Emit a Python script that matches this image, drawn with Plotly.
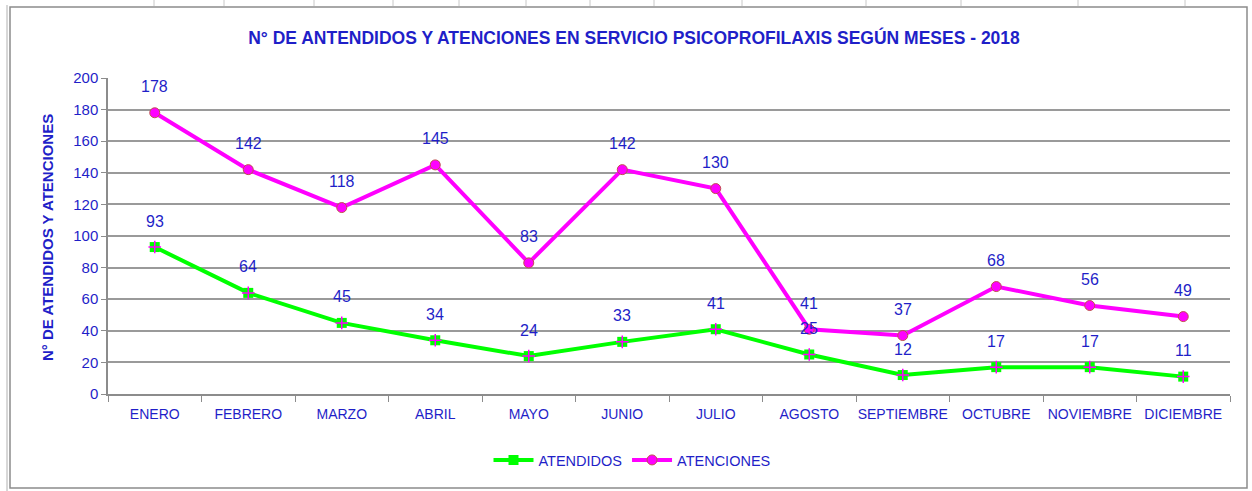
import plotly.graph_objects as go

months = ["ENERO", "FEBRERO", "MARZO", "ABRIL", "MAYO", "JUNIO", "JULIO",
          "AGOSTO", "SEPTIEMBRE", "OCTUBRE", "NOVIEMBRE", "DICIEMBRE"]
atendidos = [93, 64, 45, 34, 24, 33, 41, 25, 12, 17, 17, 11]
atenciones = [178, 142, 118, 145, 83, 142, 130, 41, 37, 68, 56, 49]
y_ticks = [0, 20, 40, 60, 80, 100, 120, 140, 160, 180, 200]

BLUE = "#1F1FC8"
FONT = "Liberation Sans"

fig = go.Figure()

fig.add_trace(go.Scatter(
    x=months, y=atendidos, name="ATENDIDOS", mode="lines+markers",
    line=dict(color="#00FF00", width=4),
    marker=dict(symbol="square", size=10, color="#00FF00", line=dict(width=0)),
))
fig.add_trace(go.Scatter(
    x=months, y=atendidos, mode="markers", showlegend=False, hoverinfo="skip",
    marker=dict(symbol="cross-thin", size=9, color="#FF00FF",
                line=dict(color="#FF00FF", width=1.5)),
))
fig.add_trace(go.Scatter(
    x=months, y=atenciones, name="ATENCIONES", mode="lines+markers",
    line=dict(color="#FF00FF", width=4),
    marker=dict(symbol="circle", size=10, color="#FF00FF",
                line=dict(color="#C0504D", width=1)),
))

annotations = []
for m, v in zip(months, atendidos):
    annotations.append(dict(x=m, y=v, text=str(v), showarrow=False, yshift=26,
                            font=dict(family=FONT, size=16, color=BLUE)))
for m, v in zip(months, atenciones):
    annotations.append(dict(x=m, y=v, text=str(v), showarrow=False, yshift=26,
                            font=dict(family=FONT, size=16, color=BLUE)))

# plot area in pixels: x 108..1230, y 78..394
L, R, T, B = 108, 1230, 78, 394
W, H = R - L, B - T

def px(xp):
    return (xp - L) / W

def py(yp):
    return (B - yp) / H

annotations.append(dict(xref="paper", yref="paper", x=px(47), y=py(238),
                        text="<b>N° DE ATENDIDOS Y ATENCIONES</b>", textangle=-90,
                        showarrow=False, xanchor="center", yanchor="middle",
                        font=dict(family=FONT, size=15, color=BLUE)))

shapes = [
    dict(type="rect", xref="paper", yref="paper",
         x0=px(10), x1=px(1247), y0=py(488), y1=py(7),
         line=dict(color="#8C8C8C", width=1.5), layer="below"),
    dict(type="line", xref="paper", yref="paper",
         x0=px(7), x1=px(7), y0=py(491), y1=py(5),
         line=dict(color="#B0B0B0", width=1), layer="below"),
]
for xs in [154, 224, 314, 393, 459, 526, 590, 654, 742, 866, 961, 1078, 1185]:
    shapes.append(dict(type="line", xref="paper", yref="paper",
                       x0=px(xs), x1=px(xs), y0=py(0), y1=py(6),
                       line=dict(color="#C8C8C8", width=1), layer="below"))

fig.update_layout(
    width=1252, height=491,
    margin=dict(l=L, r=1252 - R, t=T, b=491 - B, autoexpand=False),
    paper_bgcolor="white", plot_bgcolor="white",
    title=dict(text="<b>N° DE ANTENDIDOS Y ATENCIONES EN SERVICIO PSICOPROFILAXIS SEGÚN MESES - 2018</b>",
               x=634 / 1252, xanchor="center", xref="container",
               y=1 - 38 / 491, yanchor="middle", yref="container",
               font=dict(family=FONT, size=17.5, color=BLUE)),
    xaxis=dict(type="category", range=[-0.5, 11.5], showgrid=False,
               showline=True, linecolor="#8C8C8C", linewidth=1.5,
               ticks="outside", tickson="boundaries", ticklen=6, tickcolor="#8C8C8C",
               tickangle=0, automargin=False,
               tickfont=dict(family=FONT, size=14, color=BLUE),
               ticklabelstandoff=6, fixedrange=True),
    yaxis=dict(range=[0, 200], tickvals=y_ticks, showgrid=True,
               gridcolor="#9A9A9A", gridwidth=1.5,
               showline=True, linecolor="#8C8C8C", linewidth=1.5,
               ticks="outside", ticklen=5, tickcolor="#8C8C8C",
               automargin=False,
               tickfont=dict(family=FONT, size=15, color=BLUE),
               zeroline=False, fixedrange=True),
    legend=dict(orientation="h", x=px(632), xanchor="center",
                y=py(460), yanchor="middle",
                font=dict(family=FONT, size=14.5, color=BLUE),
                itemwidth=40, tracegroupgap=0),
    annotations=annotations,
    shapes=shapes,
)

fig.write_html("out.html", config={"displayModeBar": False},
               post_script="document.body.style.margin='0';document.body.style.overflow='hidden';")
